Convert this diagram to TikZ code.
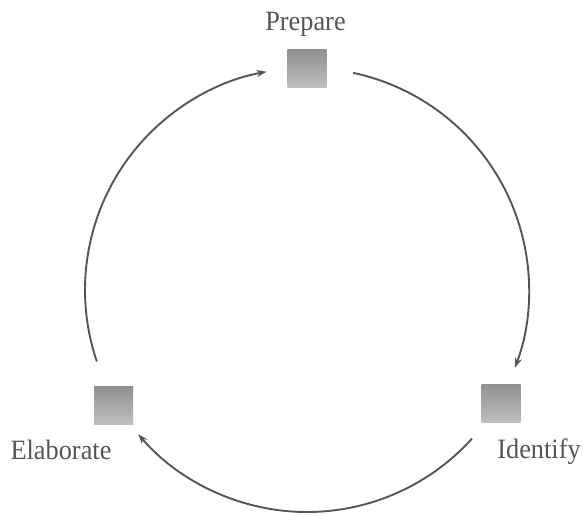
\documentclass[tikz,border=0pt]{standalone}
\usepackage{fontspec}
\setmainfont{Liberation Serif}[FakeStretch=0.94]
\usetikzlibrary{arrows.meta,calc}
\definecolor{ink}{HTML}{555555}
\tikzset{
  x=1pt, y=1pt,
  stagebox/.style={draw=none, minimum width=39pt, minimum height=38pt, inner sep=0pt,
    shade, shading angle=45, top color=gray!55!black!60, bottom color=gray!50},
  stagelabel/.style={text=ink, font=\fontsize{28}{30}\selectfont, inner sep=0pt, anchor=base},
  cycle/.style={draw=ink, line width=1.9pt, -{Stealth[length=10pt, width=7pt]}}
}
\begin{document}
\begin{tikzpicture}
\useasboundingbox (0,0) rectangle (583,515);
\coordinate (ctr) at (307,225);
\node[stagebox] (prep) at (307,446) {};
\node[stagebox] (ident) at (501,112) {};
\node[stagebox] (elab) at (113.5,109.5) {};
\node[stagelabel] (lprep) at (305.5,484) {Prepare};
\node[stagelabel] (lident) at (539,57) {Identify};
\node[stagelabel] (lelab) at (61,56) {Elaborate};
\coordinate (s1) at ($(ctr)+(78:222)$);
\coordinate (s2) at ($(ctr)+(-42:222)$);
\coordinate (s3) at ($(ctr)+(198.8:222)$);
\draw[cycle] (s1) arc[start angle=78, end angle=-20.5, radius=222];
\draw[cycle] (s2) arc[start angle=-42, end angle=-139.5, radius=222];
\draw[cycle] (s3) arc[start angle=198.8, end angle=100.5, radius=222];
\end{tikzpicture}
\end{document}
